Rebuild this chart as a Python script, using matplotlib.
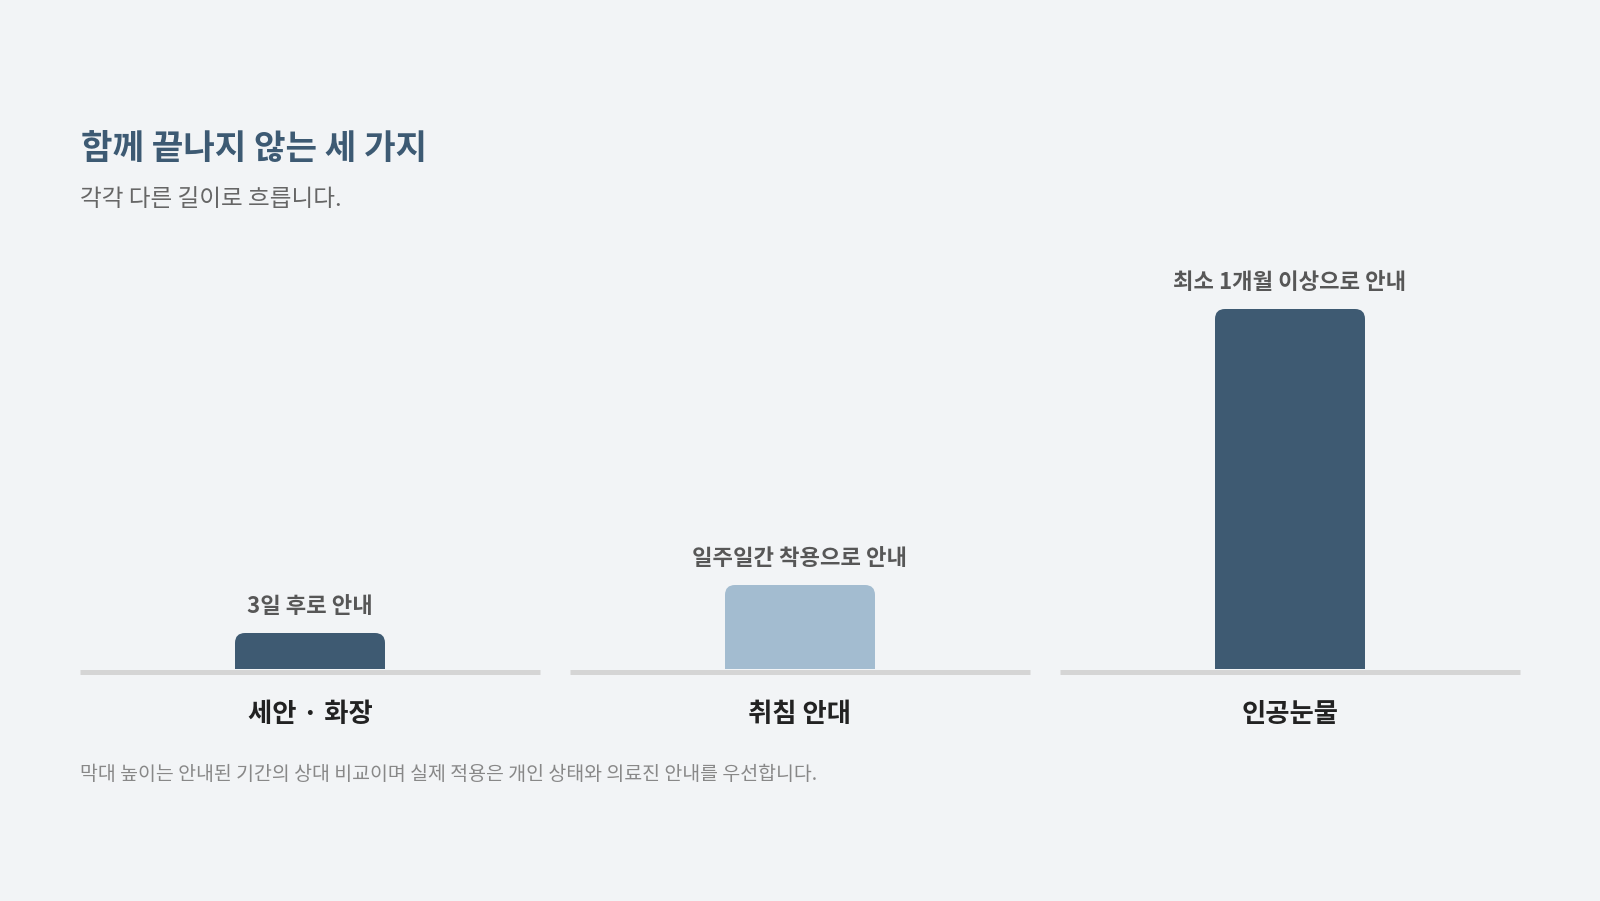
import matplotlib
matplotlib.use('Agg')
import matplotlib.pyplot as plt
from matplotlib.patches import FancyBboxPatch, Rectangle

plt.rcParams['font.family'] = ['Noto Sans CJK KR', 'DejaVu Sans']

# data: guided duration in days (relative)
categories = ['세안 · 화장', '취침 안대', '인공눈물']
days = [3, 7, 30]
value_labels = ['3일 후로 안내', '일주일간 착용으로 안내', '최소 1개월 이상으로 안내']
bar_colors = ['#3e5a72', '#a3bcd0', '#3e5a72']

title = '함께 끝나지 않는 세 가지'
subtitle = '각각 다른 길이로 흐릅니다.'
footnote = '막대 높이는 안내된 기간의 상대 비교이며 실제 적용은 개인 상태와 의료진 안내를 우선합니다.'

bg = '#f2f4f6'
W, H = 1600, 901
fig = plt.figure(figsize=(16, 9.01), dpi=100, facecolor=bg)

# axes: x in category units, y in days
ax = fig.add_axes([65 / W, (H - 669) / H, 1470 / W, 384 / H])
ax.set_facecolor(bg)
ax.set_xlim(-0.5, 2.5)
ax.set_ylim(0, 32)
for s in ax.spines.values():
    s.set_visible(False)
ax.set_yticks([])

bar_w = 150 / 490
# pixel -> data conversions for rounding
px_x = 1 / 490
px_y = 32 / 384
radius = 10
clip = Rectangle((-0.5, 0), 3, 40, transform=ax.transData)

for i, (v, c) in enumerate(zip(days, bar_colors)):
    ext = radius * px_y * 2
    p = FancyBboxPatch((i - bar_w / 2, -ext), bar_w, v + ext,
                       boxstyle='round,pad=0,rounding_size=%f' % (radius * px_x),
                       mutation_aspect=px_y / px_x,
                       facecolor=c, edgecolor='none', zorder=2)
    ax.add_patch(p)
    p.set_clip_path(clip)
    ax.annotate(value_labels[i], (i, v), xytext=(0, 19), textcoords='offset points',
                ha='center', va='center', fontsize=16, fontweight='bold',
                color='#575757')
    # baseline segment per category
    seg = 460 / 490
    ax.plot([i - seg / 2, i + seg / 2], [-2.5 * px_y] * 2, color='#d5d5d5',
            lw=3.6, solid_capstyle='butt', clip_on=False, zorder=1)

ax.set_xticks(range(len(categories)))
ax.set_xticklabels(categories, fontsize=19, fontweight='bold', color='#222222')
ax.tick_params(axis='x', length=0, pad=23)

fig.text(81 / W, 1 - 148 / H, title, fontsize=24.7, fontweight='bold',
         color='#3d5a73', ha='left', va='center')
fig.text(80 / W, 1 - 200 / H, subtitle, fontsize=17, color='#666666',
         ha='left', va='center')
fig.text(80 / W, 1 - 774 / H, footnote, fontsize=14, color='#888888',
         ha='left', va='center')

fig.savefig('out.png', dpi=100, facecolor=bg)
